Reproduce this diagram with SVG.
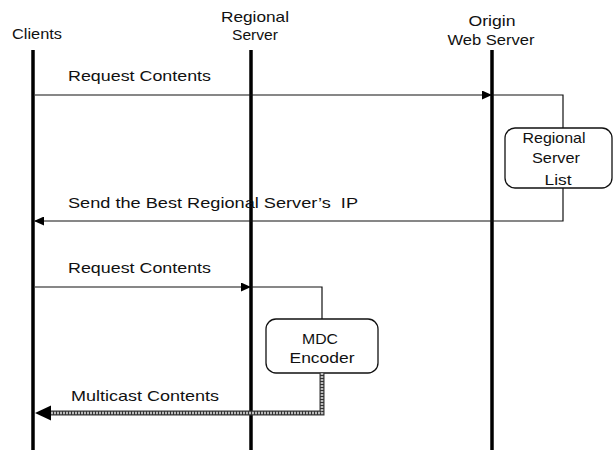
<svg xmlns="http://www.w3.org/2000/svg" width="615" height="450" viewBox="0 0 615 450">
<style>
text{font-family:"Liberation Sans",Arial,sans-serif;font-size:15px;fill:#111}
.life{stroke:#000;stroke-width:3.5;fill:none}
.msg{stroke:#111;stroke-width:1.2;fill:none}
.box{fill:#fff;stroke:#111;stroke-width:1.3}
</style>
<defs>
<marker id="ah" markerWidth="10" markerHeight="9" refX="9" refY="4.5" orient="auto" markerUnits="userSpaceOnUse">
<path d="M0,0 L10,4.5 L0,9 Z" fill="#000"/>
</marker>
</defs>
<g id="clients">
<text x="12" y="39" textLength="50" lengthAdjust="spacingAndGlyphs">Clients</text>
<line class="life" x1="33" y1="50" x2="33" y2="450"/>
</g>
<g id="regional-server">
<text x="255" y="22" text-anchor="middle" textLength="68" lengthAdjust="spacingAndGlyphs">Regional</text>
<text x="255" y="40" text-anchor="middle" textLength="46" lengthAdjust="spacingAndGlyphs">Server</text>
<line class="life" x1="251" y1="50" x2="251" y2="450"/>
</g>
<g id="origin-web-server">
<text x="492" y="26" text-anchor="middle" textLength="47" lengthAdjust="spacingAndGlyphs">Origin</text>
<text x="491" y="45" text-anchor="middle" textLength="87" lengthAdjust="spacingAndGlyphs">Web Server</text>
<line class="life" x1="492" y1="50" x2="492" y2="450"/>
</g>
<g id="regional-server-list">
<rect class="box" x="505" y="128" width="107" height="60" rx="10"/>
<text x="554" y="143" text-anchor="middle" textLength="63" lengthAdjust="spacingAndGlyphs">Regional</text>
<text x="556" y="163" text-anchor="middle" textLength="48" lengthAdjust="spacingAndGlyphs">Server</text>
<text x="558" y="185" text-anchor="middle" textLength="27" lengthAdjust="spacingAndGlyphs">List</text>
</g>
<g id="mdc-encoder">
<rect class="box" x="266" y="319" width="112" height="54" rx="10"/>
<text x="320" y="344" text-anchor="middle" textLength="36" lengthAdjust="spacingAndGlyphs">MDC</text>
<text x="322" y="363" text-anchor="middle" textLength="65" lengthAdjust="spacingAndGlyphs">Encoder</text>
</g>
<g id="connectors">
<line class="msg" x1="35" y1="95" x2="491" y2="95" marker-end="url(#ah)"/>
<path class="msg" d="M492,95 H563 V128"/>
<path class="msg" d="M563,188 V221 H35" marker-end="url(#ah)"/>
<line class="msg" x1="35" y1="287" x2="250" y2="287" marker-end="url(#ah)"/>
<path class="msg" d="M251,287 H322 V319"/>
<path d="M322,373 V413 H50" fill="none" stroke="#333" stroke-width="5"/>
<path d="M322,373 V413 H50" fill="none" stroke="#bbb" stroke-width="2.6" stroke-dasharray="2 1"/>
<polygon points="35,413 51,405.5 51,420.5" fill="#000"/>
<text x="68" y="81" textLength="143" lengthAdjust="spacingAndGlyphs">Request Contents</text>
<text x="68" y="208" textLength="290" lengthAdjust="spacingAndGlyphs">Send the Best Regional Server’s&#160; IP</text>
<text x="68" y="273" textLength="143" lengthAdjust="spacingAndGlyphs">Request Contents</text>
<text x="71" y="401" textLength="148" lengthAdjust="spacingAndGlyphs">Multicast Contents</text>
</g>
</svg>
